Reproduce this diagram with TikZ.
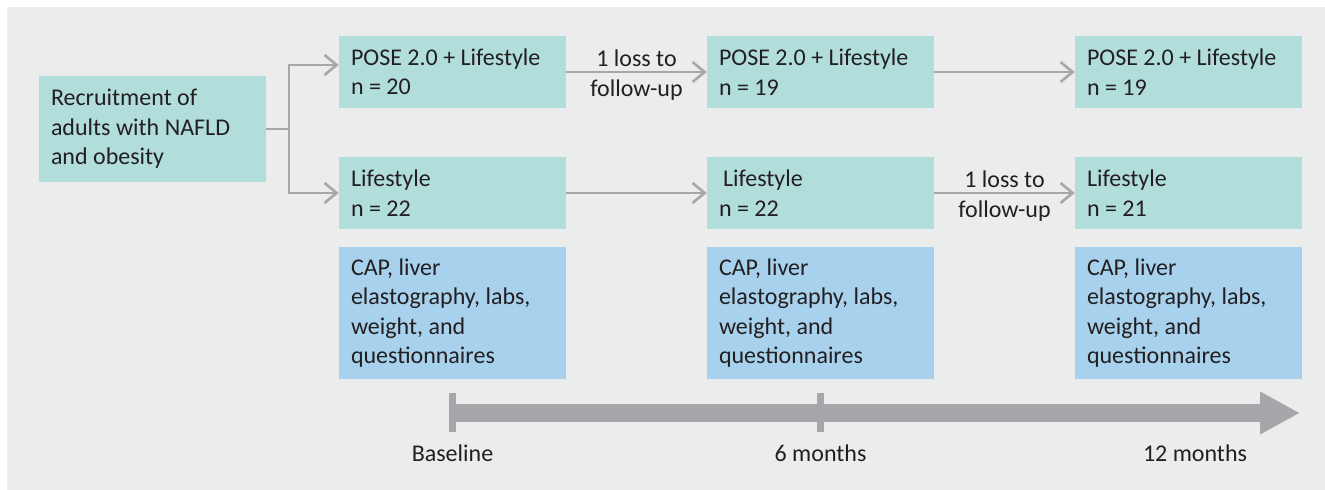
\documentclass[tikz,border=0pt]{standalone}
\usepackage{fontspec}
\setmainfont{Carlito}
\usetikzlibrary{arrows.meta}
\definecolor{panel}{HTML}{EBECEC}
\definecolor{armfill}{HTML}{B1DDDB}
\definecolor{visitfill}{HTML}{A8D1EE}
\definecolor{linegray}{HTML}{A6A7AA}
\definecolor{ink}{HTML}{231F20}
\tikzset{
	arm/.style      = {fill=armfill, rectangle, text width=101.5pt, inner xsep=6pt, inner ysep=0pt, align=flush left, minimum height=36pt, node distance=184pt},
	entry/.style    = {arm, minimum height=53pt},
	visit/.style    = {arm, fill=visitfill, minimum height=66pt},
	hidden/.style   = {coordinate},
	link/.style     = {draw=linegray, line width=1.3pt},
	loss/.style     = {midway, align=center, inner sep=0pt, yshift=-1.5pt},
	timebar/.style  = {draw=linegray, line width=9pt, -{Triangle[length=20pt, width=20pt]}},
	tickline/.style = {draw=linegray, line width=3.5pt},
}

\begin{document}
\begin{tikzpicture}[>={Straight Barb[length=6pt, width=10pt]}, font=\fontsize{12}{14.75}\selectfont, text=ink]
		% Panel behind the chart
		\useasboundingbox (0,0) rectangle (662.5pt,-245pt);
		\fill[panel] (3.5pt,-3.5pt) rectangle (662.5pt,-245pt);

		% Draw the recruitment and the POSE arm
		\draw
			node[entry] (recruit) at (76.25pt,-64.5pt) {Recruitment of\\adults with NAFLD\\and obesity}
			node[hidden, right of = recruit, node distance = 68.25pt] (split) {}
			node[arm   , right of = recruit, node distance = 150pt, yshift = 28.5pt] (pose0) {POSE 2.0 + Lifestyle\\n = 20}
			node[arm   , right of = pose0 ] (pose6) {POSE 2.0 + Lifestyle\\n = 19}
			node[arm   , right of = pose6 ] (pose12) {POSE 2.0 + Lifestyle\\n = 19};

		% Draw the lifestyle arm and the visits
		\draw
			node[arm  , below of = pose0, node distance = 60.5pt] (life0) {Lifestyle\\n = 22}
			node[arm  , right of = life0 ] (life6) {\hspace{2pt}Lifestyle\\n = 22}
			node[arm  , right of = life6 ] (life12) {Lifestyle\\n = 21}
			node[visit, below of = life0, node distance = 60pt] (meas0) {CAP, liver\\elastography, labs,\\weight, and\\questionnaires}
			node[visit, right of = meas0 ] (meas6) {CAP, liver\\elastography, labs,\\weight, and\\questionnaires}
			node[visit, right of = meas6 ] (meas12) {CAP, liver\\elastography, labs,\\weight, and\\questionnaires};

		% Connect everything together
		\draw[link] (recruit) -- (split);
		\draw[link, ->] (split) |- ([yshift = 3.5pt]pose0.west);
		\draw[link, ->] (split) |- (life0);
		\draw[link, ->] (pose0) -- (pose6) node[loss] {1 loss to\\follow-up};
		\draw[link, ->] (pose6) -- (pose12);
		\draw[link, ->] (life0) -- (life6);
		\draw[link, ->] (life6) -- (life12) node[loss] {1 loss to\\follow-up};

		% Time line
		\draw
			node[hidden, below of = meas0 , node distance = 50pt] (t0) {}
			node[hidden, below of = meas6 , node distance = 50pt] (t6) {}
			node[hidden, below of = meas12, node distance = 50pt] (t12) {}
			node[hidden, right of = t12   , node distance = 55.75pt] (tipend) {};
		\draw[timebar] (t0) -- (tipend);
		\draw[tickline] ([yshift = 9.75pt]t0) -- ([yshift = -9.75pt]t0);
		\draw[tickline] ([yshift = 9.75pt]t6) -- ([yshift = -9.75pt]t6);
		\draw
			node[below of = t0 , node distance = 20pt] (base) {Baseline}
			node[below of = t6 , node distance = 20pt] (half) {6 months}
			node[below of = t12, node distance = 20pt, xshift = 3.25pt] (year) {12 months};
	\end{tikzpicture}
\end{document}
